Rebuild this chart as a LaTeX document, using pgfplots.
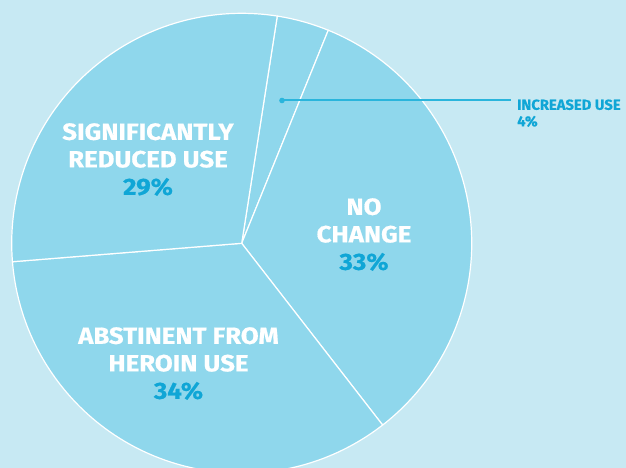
\documentclass[border=0pt]{standalone}
\usepackage{pgfplots}
\usepackage{pgfplotstable}
\pgfplotsset{compat=1.18}
\usepackage{fontspec}
\setmainfont{Fira Sans}
\newfontfamily\labfont{Fira Sans}[UprightFont=* Bold, FakeStretch=1.1, FakeBold=0.6]
\newfontfamily\smallfont{Fira Sans}[UprightFont=* Bold, FakeStretch=1.02, FakeBold=0.5]
\definecolor{bgc}{HTML}{C7E9F3}
\definecolor{piec}{HTML}{8FD7EC}
\definecolor{pctc}{HTML}{10A6D6}
\definecolor{linec}{HTML}{2AB5DC}
\pgfplotstableread{
label value
increased 3.67
nochange 33.36
abstinent 34.22
reduced 28.75
}\piedata
\begin{document}
\begin{tikzpicture}
\begin{axis}[
  at={(0,0)}, anchor=south west,
  scale only axis, width=626pt, height=468pt,
  xmin=0, xmax=626, ymin=0, ymax=468,
  axis lines=none, ticks=none,
  axis background/.style={fill=bgc},
  clip=true,
]
\pgfmathsetmacro{\start}{81.1}
\pgfplotsforeachungrouped \i in {0,...,3}{%
  \pgfplotstablegetelem{\i}{value}\of\piedata
  \pgfmathsetmacro{\sweep}{3.6*\pgfplotsretval}%
  \pgfmathsetmacro{\stop}{\start-\sweep}%
  \edef\cmd{\noexpand\filldraw[fill=piec, draw=white, line width=1.2pt, line join=round] (axis cs:241.7,224.7) -- ++(\start:230pt) arc[start angle=\start, end angle=\stop, radius=230pt] -- cycle;}%
  \cmd
  \let\start\stop
}
\draw[linec, line width=2pt] (axis cs:282,367.5) -- (axis cs:510.5,367.5);
\fill[linec] (axis cs:282,367.5) circle (2.8pt);
\node[anchor=north, align=center, inner sep=0pt, font=\labfont\fontsize{23.5}{27.5}\selectfont, text=white] at (axis cs:148,345)
  {SIGNIFICANTLY\\REDUCED USE\\\textcolor{pctc}{29\%}};
\node[anchor=north, align=center, inner sep=0pt, font=\labfont\fontsize{23.5}{27.5}\selectfont, text=white] at (axis cs:178.5,141)
  {ABSTINENT FROM\\HEROIN USE\\\textcolor{pctc}{34\%}};
\node[anchor=north, align=center, inner sep=0pt, font=\labfont\fontsize{23.5}{27.5}\selectfont, text=white] at (axis cs:364,270)
  {NO\\CHANGE\\\textcolor{pctc}{33\%}};
\node[anchor=north west, align=left, inner sep=0pt, font=\smallfont\fontsize{14.5}{16.5}\selectfont, text=pctc] at (axis cs:517,368.7)
  {INCREASED USE\\4\%};
\end{axis}
\pgfresetboundingbox
\useasboundingbox (0,0) rectangle (626pt,468pt);
\end{tikzpicture}
\end{document}
